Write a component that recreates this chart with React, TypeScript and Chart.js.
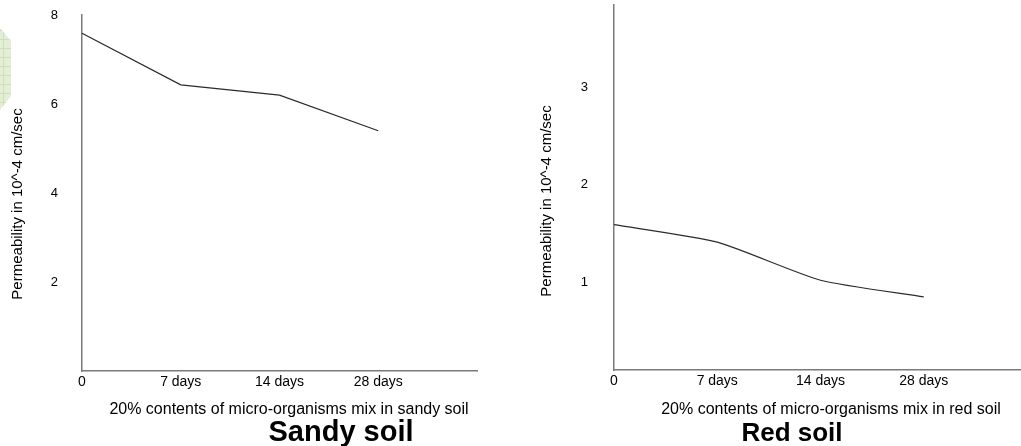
import { useEffect, useRef } from "react";
import { Chart, registerables } from "chart.js";

Chart.register(...registerables);

// Sampling times (the first slot is the untreated soil, the last one is spare room on the axis)
const dayLabels = ["0", "7 days", "14 days", "28 days", ""];

// Permeability in 10^-4 cm/sec
const sandyPermeability = [7.59, 6.43, 6.2, 5.4];
const redPermeability = [1.49, 1.31, 0.92, 0.75];

const sandyAxis = { min: 0, max: 8, step: 2 };
const redAxis = { min: 0, max: 3.74, step: 1 };

const yTitleText = "Permeability in 10^-4 cm/sec";
const sandyCaption = "20% contents of micro-organisms mix in sandy soil";
const redCaption = "20% contents of micro-organisms mix in red soil";
const sandyHeading = "Sandy soil";
const redHeading = "Red soil";

const FONT = '"Liberation Sans", Arial, sans-serif';

type CaptionOpts = {
  yTitle: string;
  yTitleX: number;
  yTitleY: number;
  caption: string;
  captionX: number;
  captionY: number;
  heading: string;
  headingX: number;
  headingY: number;
  headingSize: number;
  patch?: boolean;
};

const captionPlugin = {
  id: "captions",
  beforeDraw(chart: any, _args: any, opts: CaptionOpts) {
    if (!opts.patch) return;
    const { ctx } = chart;
    ctx.save();
    ctx.beginPath();
    ctx.moveTo(0, 28);
    ctx.lineTo(11, 41);
    ctx.lineTo(11, 96);
    ctx.lineTo(0, 110);
    ctx.closePath();
    ctx.fillStyle = "#e4eed6";
    ctx.fill();
    ctx.clip();
    ctx.strokeStyle = "#cddfb4";
    ctx.lineWidth = 1;
    for (let y = 30; y < 112; y += 9) {
      ctx.beginPath();
      ctx.moveTo(0, y + 0.5);
      ctx.lineTo(12, y + 0.5);
      ctx.stroke();
    }
    for (let x = 3; x < 12; x += 8) {
      ctx.beginPath();
      ctx.moveTo(x + 0.5, 20);
      ctx.lineTo(x + 0.5, 115);
      ctx.stroke();
    }
    ctx.restore();
  },
  afterDraw(chart: any, _args: any, opts: CaptionOpts) {
    const { ctx } = chart;
    ctx.save();
    ctx.fillStyle = "#000";
    ctx.textAlign = "center";

    ctx.save();
    ctx.translate(opts.yTitleX, opts.yTitleY);
    ctx.rotate(-Math.PI / 2);
    ctx.textBaseline = "middle";
    ctx.font = `15px ${FONT}`;
    ctx.fillText(opts.yTitle, 0, 0);
    ctx.restore();

    ctx.textBaseline = "alphabetic";
    ctx.font = `16px ${FONT}`;
    ctx.fillText(opts.caption, opts.captionX, opts.captionY);

    ctx.font = `bold ${opts.headingSize}px ${FONT}`;
    ctx.fillText(opts.heading, opts.headingX, opts.headingY);
    ctx.restore();
  },
};

type PanelSpec = {
  values: number[];
  axis: { min: number; max: number; step: number };
  yWidth: number;
  xHeight: number;
  padTop: number;
  padRight: number;
  yTickPadding: number;
  yLabelOffset: number;
  tension: number;
  captions: CaptionOpts;
};

function makeConfig(spec: PanelSpec): any {
  return {
    type: "line",
    data: {
      labels: dayLabels,
      datasets: [
        {
          data: spec.values,
          borderColor: "#2b2b2b",
          borderWidth: 1.2,
          pointRadius: 0,
          tension: spec.tension,
          fill: false,
        },
      ],
    },
    options: {
      responsive: false,
      animation: false,
      layout: { padding: { top: spec.padTop, right: spec.padRight, bottom: 0, left: 0 } },
      plugins: {
        legend: { display: false },
        tooltip: { enabled: false },
        title: { display: false },
        captions: spec.captions,
      },
      scales: {
        x: {
          type: "category",
          offset: false,
          grid: { display: false, drawTicks: false },
          border: { display: true, color: "#7a7a7a", width: 1.5 },
          ticks: {
            autoSkip: false,
            maxRotation: 0,
            minRotation: 0,
            padding: 3,
            color: "#000",
            font: { family: FONT, size: 14 },
          },
          afterFit: (scale: any) => {
            scale.height = spec.xHeight;
            scale.paddingLeft = 0;
            scale.paddingRight = 0;
          },
        },
        y: {
          type: "linear",
          min: spec.axis.min,
          max: spec.axis.max,
          grid: { display: false, drawTicks: false },
          border: { display: true, color: "#7a7a7a", width: 1.5 },
          ticks: {
            stepSize: spec.axis.step,
            includeBounds: false,
            padding: spec.yTickPadding,
            labelOffset: spec.yLabelOffset,
            color: "#000",
            font: { family: FONT, size: 13 },
            callback: (v: any) => (Number(v) === 0 ? "" : String(v)),
          },
          afterFit: (scale: any) => {
            scale.width = spec.yWidth;
            scale.paddingTop = 0;
            scale.paddingBottom = 0;
          },
        },
      },
    },
    plugins: [captionPlugin],
  };
}

function Panel({ width, spec }: { width: number; spec: PanelSpec }) {
  const ref = useRef<HTMLCanvasElement | null>(null);
  useEffect(() => {
    if (!ref.current) return;
    const chart = new Chart(ref.current, makeConfig(spec));
    return () => chart.destroy();
  }, []);
  return <canvas ref={ref} width={width} height={446} style={{ display: "block" }} />;
}

const sandySpec: PanelSpec = {
  values: sandyPermeability,
  axis: sandyAxis,
  yWidth: 82,
  xHeight: 75,
  padTop: 15,
  padRight: 33,
  yTickPadding: 24,
  yLabelOffset: 0,
  tension: 0,
  captions: {
    yTitle: yTitleText,
    yTitleX: 18,
    yTitleY: 204,
    caption: sandyCaption,
    captionX: 289,
    captionY: 414,
    heading: sandyHeading,
    headingX: 341,
    headingY: 441,
    headingSize: 29,
    patch: true,
  },
};

const redSpec: PanelSpec = {
  values: redPermeability,
  axis: redAxis,
  yWidth: 104,
  xHeight: 76,
  padTop: 5,
  padRight: 3,
  yTickPadding: 26,
  yLabelOffset: 10,
  tension: 0.2,
  captions: {
    yTitle: yTitleText,
    yTitleX: 37,
    yTitleY: 201,
    caption: redCaption,
    captionX: 321,
    captionY: 414,
    heading: redHeading,
    headingX: 282,
    headingY: 441,
    headingSize: 26,
  },
};

export default function App() {
  return (
    <div
      style={{
        position: "fixed",
        left: 0,
        top: 0,
        width: 1021,
        height: 446,
        overflow: "hidden",
        background: "#fff",
      }}
    >
      <div style={{ position: "absolute", left: 0, top: 0 }}>
        <Panel width={510} spec={sandySpec} />
      </div>
      <div style={{ position: "absolute", left: 510, top: 0 }}>
        <Panel width={520} spec={redSpec} />
      </div>
    </div>
  );
}
